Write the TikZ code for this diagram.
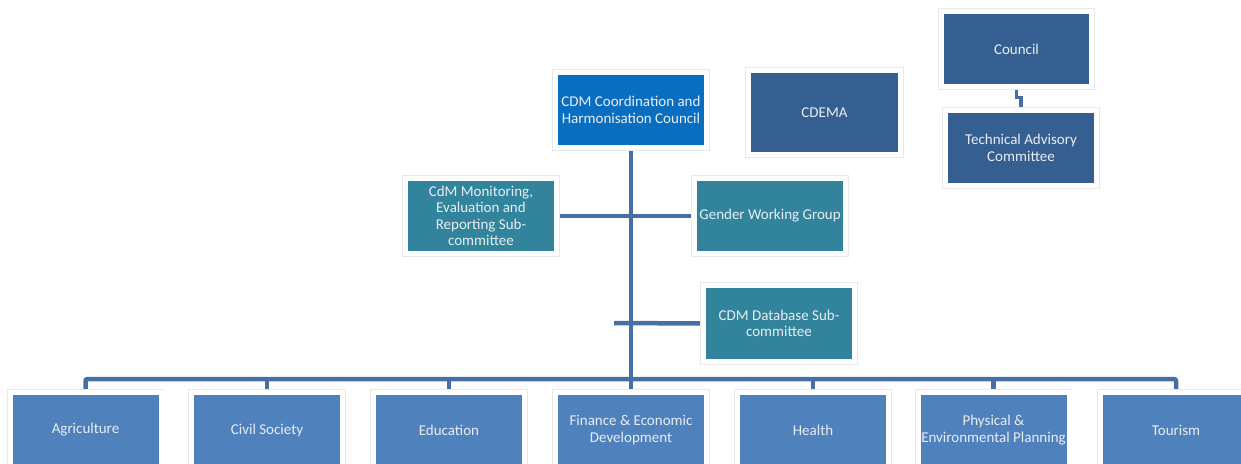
\documentclass[tikz,border=0pt]{standalone}
\usepackage{fontspec}
\setmainfont{Carlito}
\usetikzlibrary{backgrounds,calc}
\definecolor{cbright}{RGB}{10,110,192}
\definecolor{cdark}{RGB}{54,95,145}
\definecolor{cteal}{RGB}{49,132,155}
\definecolor{cmid}{RGB}{79,129,189}
\definecolor{cline}{RGB}{70,112,164}
\definecolor{ctxt}{RGB}{232,237,242}
\begin{document}
\begin{tikzpicture}[x=1pt,y=-1pt,
  box/.style={minimum width=151, minimum height=75, inner sep=1, outer sep=0,
    align=center, text=ctxt, font=\fontsize{15}{16.5}\selectfont,
    draw=white, line width=5, preaction={draw=black!9, line width=6.5}},
  conn/.style={draw=cline, line width=4.5, rounded corners=2}]
\clip (0,0) rectangle (1241,463);
% top
\node[box, fill=cbright] (coord) at (631,110) {CDM Coordination and\\Harmonisation Council};
\node[box, fill=cdark, minimum width=152, minimum height=84] (cdema) at (824.5,112.5) {CDEMA};
\node[box, fill=cdark, minimum width=150] (council) at (1016.5,49) {Council};
\node[box, fill=cdark] (tac) at (1021,148) {Technical Advisory\\Committee};
% middle
\node[box, fill=cteal] (mon) at (481,216) {CdM Monitoring,\\Evaluation and\\Reporting Sub-\\committee};
\node[box, fill=cteal] (gender) at (770,216) {Gender Working Group};
\node[box, fill=cteal, minimum height=76] (db) at (779,323.5) {CDM Database Sub-\\committee};
\coordinate (dbend) at (614,323);
\coordinate (bus) at (631,379);
% bottom
\node[box, fill=cmid] (agri) at (85.5,430) {Agriculture};
\node[box, fill=cmid] (civ) at (267,430) {Civil Society};
\node[box, fill=cmid] (edu) at (449,430) {Education};
\node[box, fill=cmid] (fin) at (631,430) {Finance \& Economic\\Development};
\node[box, fill=cmid] (hea) at (813,430) {Health};
\node[box, fill=cmid] (phy) at (993.5,430) {Physical \&\\Environmental Planning};
\node[box, fill=cmid] (tour) at (1176,430) {Tourism};
\begin{scope}[on background layer]
\fill[white] (0,0) rectangle (1241,463);
\draw[conn] (coord.south) -- (coord.south |- bus);
\draw[conn] (agri.north) |- (bus) -| (tour.north);
\foreach \n in {civ,edu,fin,hea,phy}{\draw[conn] (\n.north) -- (\n.north |- bus);}
\draw[conn] (mon.east) -- (gender.west);
\draw[conn] (db.west) -- (dbend);
\draw[conn, rounded corners=0, line width=3.5] (council.south) |- ($(council.south)!0.45!(tac.north)$) -| (tac.north);
\end{scope}
\end{tikzpicture}
\end{document}
